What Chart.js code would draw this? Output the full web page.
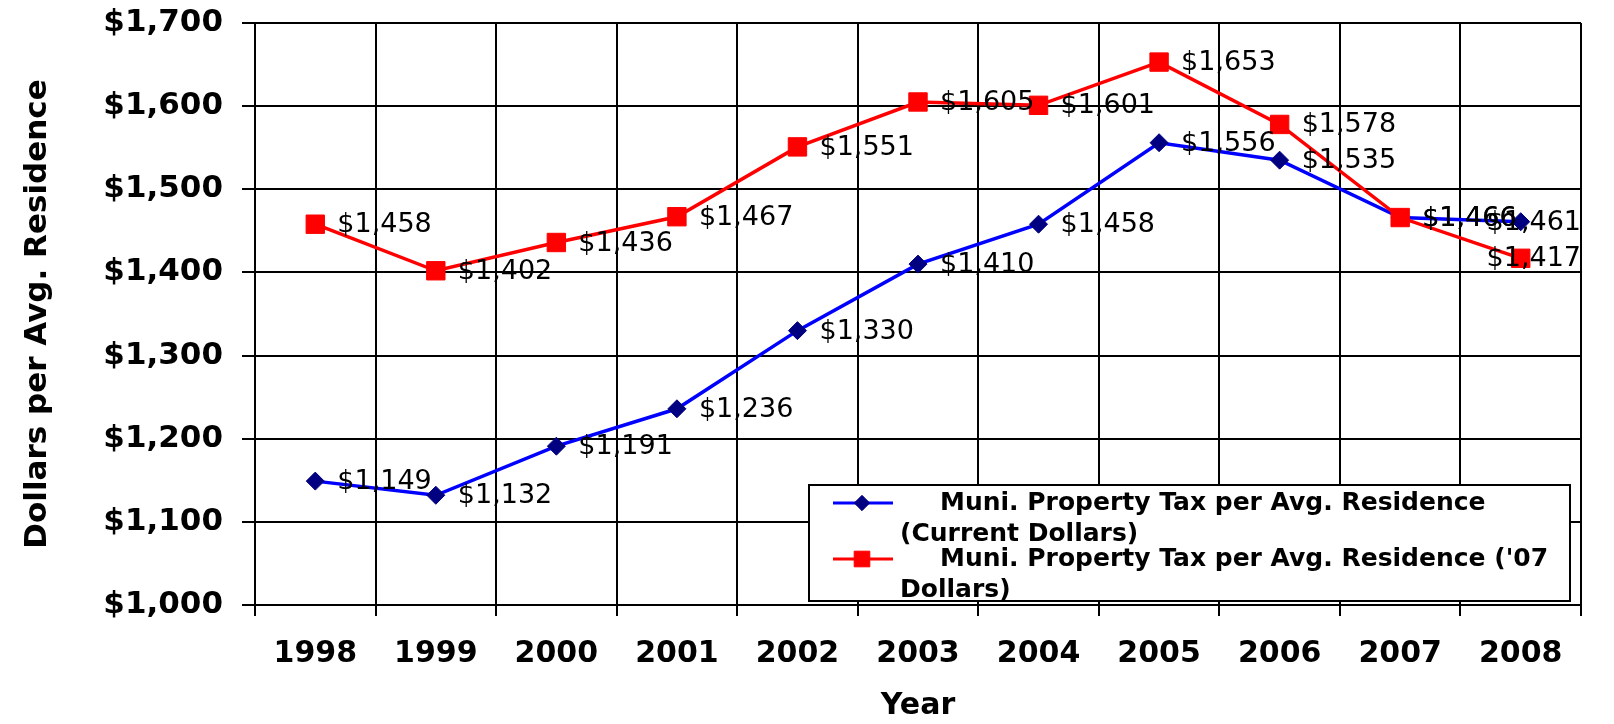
<!DOCTYPE html>
<html>
<head>
<meta charset="utf-8">
<title>Muni. Property Tax per Avg. Residence</title>
<script src="https://cdn.jsdelivr.net/npm/chart.js@4.4.0/dist/chart.umd.min.js"></script>
<style>
  body { margin: 0; background: #fff; }
  canvas { display: block; }
</style>
</head>
<body>
<canvas id="tax-chart" width="1614" height="724"></canvas>
<script>
// values
const years = ['1998', '1999', '2000', '2001', '2002', '2003', '2004', '2005', '2006', '2007', '2008'];
const currentDollars = [1149, 1132, 1191, 1236, 1330, 1410, 1458, 1556, 1535, 1466, 1461];
const dollars07 = [1458, 1402, 1436, 1467, 1551, 1605, 1601, 1653, 1578, 1466, 1417];
const yTickValues = [1000, 1100, 1200, 1300, 1400, 1500, 1600, 1700];

const currentLabel = 'Muni. Property Tax per Avg. Residence (Current Dollars)';
const dollars07Label = "Muni. Property Tax per Avg. Residence ('07 Dollars)";

const FONT = "'DejaVu Sans', sans-serif";

function money(v) {
    return '$' + Number(v).toLocaleString('en-US');
}

// value next to every point, pulled back inside the plot at the right edge
const valueLabels = {
    id: 'valueLabels',
    afterDatasetsDraw(chart) {
        const ctx = chart.ctx;
        const right = chart.chartArea.right;
        ctx.save();
        ctx.font = '27px ' + FONT;
        ctx.fillStyle = '#000';
        ctx.textBaseline = 'middle';
        chart.data.datasets.forEach((ds, i) => {
            chart.getDatasetMeta(i).data.forEach((pt, j) => {
                const text = money(ds.data[j]);
                const w = ctx.measureText(text).width;
                const x = Math.min(pt.x + 22, right - w);
                ctx.fillText(text, x, pt.y + 1);
            });
        });
        ctx.restore();
    }
};

function wrapText(ctx, text, firstWidth, restWidth) {
    const words = text.split(' ');
    const lines = [];
    let line = '';
    words.forEach(w => {
        const test = line ? line + ' ' + w : w;
        const max = lines.length === 0 ? firstWidth : restWidth;
        if (line && ctx.measureText(test).width > max) {
            lines.push(line);
            line = w;
        } else {
            line = test;
        }
    });
    if (line) lines.push(line);
    return lines;
}

// boxed legend sitting inside the plot, like the Excel original
const boxLegend = {
    id: 'boxLegend',
    afterDraw(chart) {
        const ctx = chart.ctx;
        const left = 809, top = 485, right = 1570, bottom = 601;
        ctx.save();
        ctx.fillStyle = '#fff';
        ctx.fillRect(left, top, right - left, bottom - top);
        ctx.strokeStyle = '#000';
        ctx.lineWidth = 2;
        ctx.strokeRect(left, top, right - left, bottom - top);

        ctx.font = 'bold 25px ' + FONT;
        ctx.textBaseline = 'middle';
        let y = 503;
        chart.data.datasets.forEach(ds => {
            ctx.strokeStyle = ds.borderColor;
            ctx.lineWidth = 3;
            ctx.beginPath();
            ctx.moveTo(833, y);
            ctx.lineTo(893, y);
            ctx.stroke();

            ctx.fillStyle = ds.pointBackgroundColor;
            ctx.strokeStyle = ds.pointBorderColor;
            ctx.lineWidth = 1;
            Chart.helpers.drawPoint(ctx, {
                pointStyle: ds.pointStyle,
                radius: ds.pointRadius * 0.85,
                borderWidth: 1
            }, 862, y);

            ctx.fillStyle = '#000';
            const lines = wrapText(ctx, ds.label, right - 5 - 940, right - 5 - 900);
            lines.forEach((ln, k) => {
                ctx.fillText(ln, k === 0 ? 940 : 900, y + k * 31);
            });
            y += (lines.length - 1) * 31 + 25;
        });
        ctx.restore();
    }
};

const ctx = document.getElementById('tax-chart').getContext('2d');
new Chart(ctx, {
    type: 'line',
    data: {
        labels: years,
        datasets: [
            {
                label: currentLabel,
                data: currentDollars,
                borderColor: '#0000FF',
                borderWidth: 3.5,
                pointStyle: 'rectRot',
                pointRadius: 9,
                pointBackgroundColor: '#000080',
                pointBorderColor: '#000080',
                pointBorderWidth: 1,
                fill: false,
                tension: 0,
                order: 1
            },
            {
                label: dollars07Label,
                data: dollars07,
                borderColor: '#FF0000',
                borderWidth: 3.5,
                pointStyle: 'rect',
                pointRadius: 13,
                pointBackgroundColor: '#FF0000',
                pointBorderColor: '#FF0000',
                pointBorderWidth: 1,
                fill: false,
                tension: 0,
                order: 0
            }
        ]
    },
    options: {
        responsive: false,
        animation: false,
        layout: { padding: { top: 23, right: 33, bottom: 0, left: 0 } },
        plugins: {
            legend: { display: false },
            tooltip: { enabled: false }
        },
        scales: {
            x: {
                offset: true,
                grid: { offset: true, color: '#000', lineWidth: 2, tickLength: 11 },
                border: { color: '#000', width: 2 },
                ticks: {
                    color: '#000',
                    padding: 20,
                    maxRotation: 0,
                    autoSkip: false,
                    font: { family: FONT, size: 30, weight: 'bold' }
                },
                title: {
                    display: true,
                    text: 'Year',
                    color: '#000',
                    padding: { top: 0, bottom: 0 },
                    font: { family: FONT, size: 30, weight: 'bold' }
                },
                afterFit(scale) { scale.height = 119; }
            },
            y: {
                min: yTickValues[0],
                max: yTickValues[yTickValues.length - 1],
                grid: { color: '#000', lineWidth: 2, tickLength: 13 },
                border: { color: '#000', width: 2 },
                ticks: {
                    stepSize: yTickValues[1] - yTickValues[0],
                    color: '#000',
                    padding: 19,
                    callback: v => money(v),
                    font: { family: FONT, size: 31, weight: 'bold' }
                },
                title: {
                    display: true,
                    text: 'Dollars per Avg. Residence',
                    color: '#000',
                    padding: { top: 19, bottom: 0 },
                    font: { family: FONT, size: 31, weight: 'bold' }
                },
                afterFit(scale) {
                    scale.width = 255;
                    scale.paddingTop = 0;
                    scale.paddingBottom = 0;
                }
            }
        }
    },
    plugins: [valueLabels, boxLegend]
});
</script>
</body>
</html>
